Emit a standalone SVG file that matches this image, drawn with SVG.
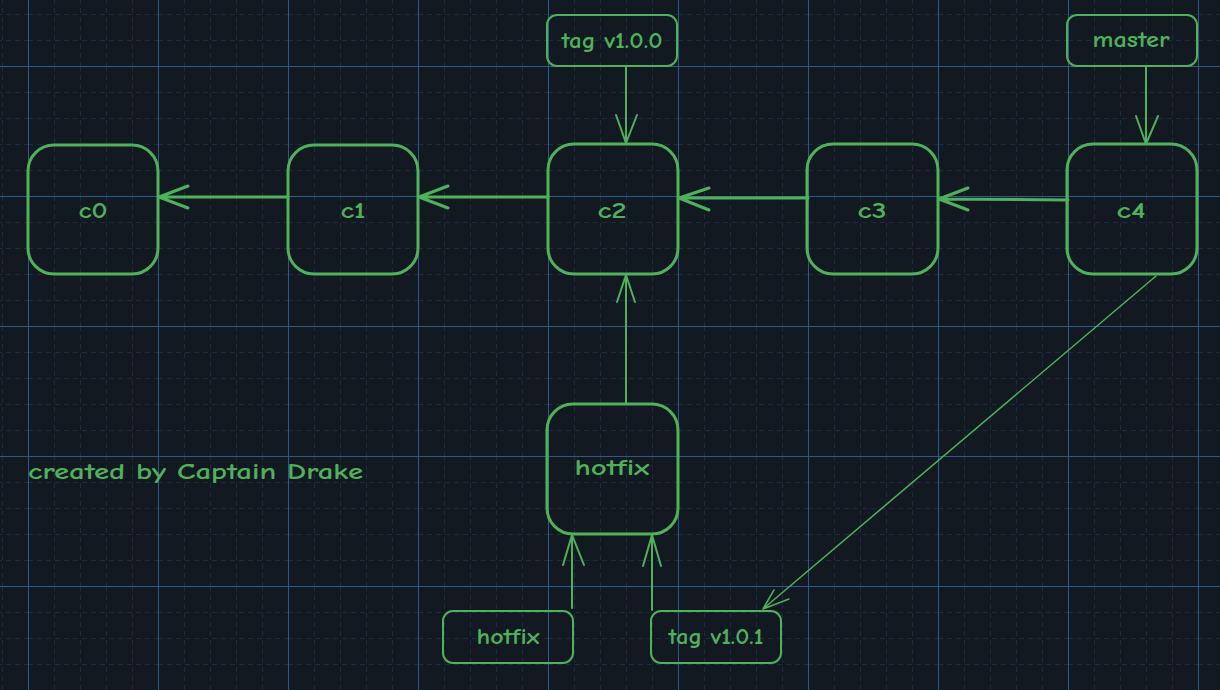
<svg xmlns="http://www.w3.org/2000/svg" width="1220" height="690" viewBox="0 0 1220 690">
<style>
.node{fill:none;stroke:#4fb15c;stroke-width:3;stroke-linecap:round}
.tag{fill:none;stroke:#4fb15c;stroke-width:2}
.lbl{fill:#4fb15c;font-family:"Comic Neue","Liberation Sans",sans-serif;font-size:23px;font-weight:bold;text-anchor:middle}
.conn{fill:none;stroke:#4fb15c;stroke-linecap:round;stroke-linejoin:round}
.minor{stroke:#1c2b3e;stroke-width:1;stroke-dasharray:5 4}
.major{stroke:#2a5a8a;stroke-width:1}
</style>
<defs>
<pattern id="grid" x="28" y="66" width="130" height="130" patternUnits="userSpaceOnUse">
<line class="minor" x1="26.5" y1="0" x2="26.5" y2="130"/>
<line class="minor" x1="52.5" y1="0" x2="52.5" y2="130"/>
<line class="minor" x1="78.5" y1="0" x2="78.5" y2="130"/>
<line class="minor" x1="104.5" y1="0" x2="104.5" y2="130"/>
<line class="minor" x1="0" y1="26.5" x2="130" y2="26.5"/>
<line class="minor" x1="0" y1="52.5" x2="130" y2="52.5"/>
<line class="minor" x1="0" y1="78.5" x2="130" y2="78.5"/>
<line class="minor" x1="0" y1="104.5" x2="130" y2="104.5"/>
<line class="major" x1="0.5" y1="0" x2="0.5" y2="130"/>
<line class="major" x1="0" y1="0.5" x2="130" y2="0.5"/>
</pattern>
</defs>
<rect width="1220" height="690" fill="#131921"/>
<rect width="1220" height="690" fill="url(#grid)"/>

<g id="c0"><rect class="node" x="28" y="145" width="130" height="129" rx="26"/><text class="lbl" x="93" y="218" textLength="29" lengthAdjust="spacingAndGlyphs">c0</text></g>
<g id="c1"><rect class="node" x="288" y="145" width="130" height="129" rx="26"/><text class="lbl" x="353" y="218" textLength="25" lengthAdjust="spacingAndGlyphs">c1</text></g>
<g id="c2"><rect class="node" x="548" y="144" width="130" height="130" rx="26"/><text class="lbl" x="612" y="218" textLength="29" lengthAdjust="spacingAndGlyphs">c2</text></g>
<g id="c3"><rect class="node" x="807" y="144" width="131" height="130" rx="26"/><text class="lbl" x="872" y="218" textLength="29" lengthAdjust="spacingAndGlyphs">c3</text></g>
<g id="c4"><rect class="node" x="1067" y="144" width="130" height="130" rx="26"/><text class="lbl" x="1131" y="218" textLength="29" lengthAdjust="spacingAndGlyphs">c4</text></g>
<g id="hotfix-commit"><rect class="node" x="547" y="404" width="131" height="130" rx="26"/><text class="lbl" x="612" y="475" textLength="75" lengthAdjust="spacingAndGlyphs">hotfix</text></g>
<g id="tag-v100"><rect class="tag" x="547" y="15" width="130" height="51" rx="10"/><text class="lbl" x="612" y="48" textLength="101" lengthAdjust="spacingAndGlyphs">tag v1.0.0</text></g>
<g id="master"><rect class="tag" x="1067" y="15" width="130" height="51" rx="10"/><text class="lbl" x="1131" y="47" textLength="77" lengthAdjust="spacingAndGlyphs">master</text></g>
<g id="hotfix-branch"><rect class="tag" x="443" y="611" width="130" height="52" rx="10"/><text class="lbl" x="508" y="644" font-size="20" textLength="63" lengthAdjust="spacingAndGlyphs">hotfix</text></g>
<g id="tag-v101"><rect class="tag" x="651" y="611" width="130" height="52" rx="10"/><text class="lbl" x="716" y="644" font-size="20" textLength="95" lengthAdjust="spacingAndGlyphs">tag v1.0.1</text></g>

<text x="28" y="479" fill="#4fb15c" font-family="'Comic Neue','Liberation Sans',sans-serif" font-size="23" font-weight="bold" textLength="335" lengthAdjust="spacingAndGlyphs">created by Captain Drake</text>

<g id="connectors">
<g class="conn" stroke-width="3">
<path d="M288 197 L159 197 M188 186 L159 197 L188 208"/>
<path d="M548 197 L419 197 M448 186 L419 197 L448 208"/>
<path d="M808 198 L679 198 M709 188 L679 198 L709 210"/>
<path d="M1068 200 L939 199 M968 188 L939 199 L968 210"/>
</g>
<g class="conn" stroke-width="2">
<path d="M626 67 L626 143 M616 115 L626 143 L637 115"/>
<path d="M1146 67 L1146 144 M1136 116 L1146 144 L1158 116"/>
<path d="M626 404 L626 275 M617 302 L626 275 L635 302"/>
<path d="M572 608 L572 535 M563 565 L572 535 L584 565"/>
<path d="M652 610 L652 535 M643 566 L652 535 L661 566"/>
</g>
<path class="conn" stroke-width="1.5" d="M1156 276 L763 609 M774 590 L763 609 L789 599"/>
</g>
</svg>
